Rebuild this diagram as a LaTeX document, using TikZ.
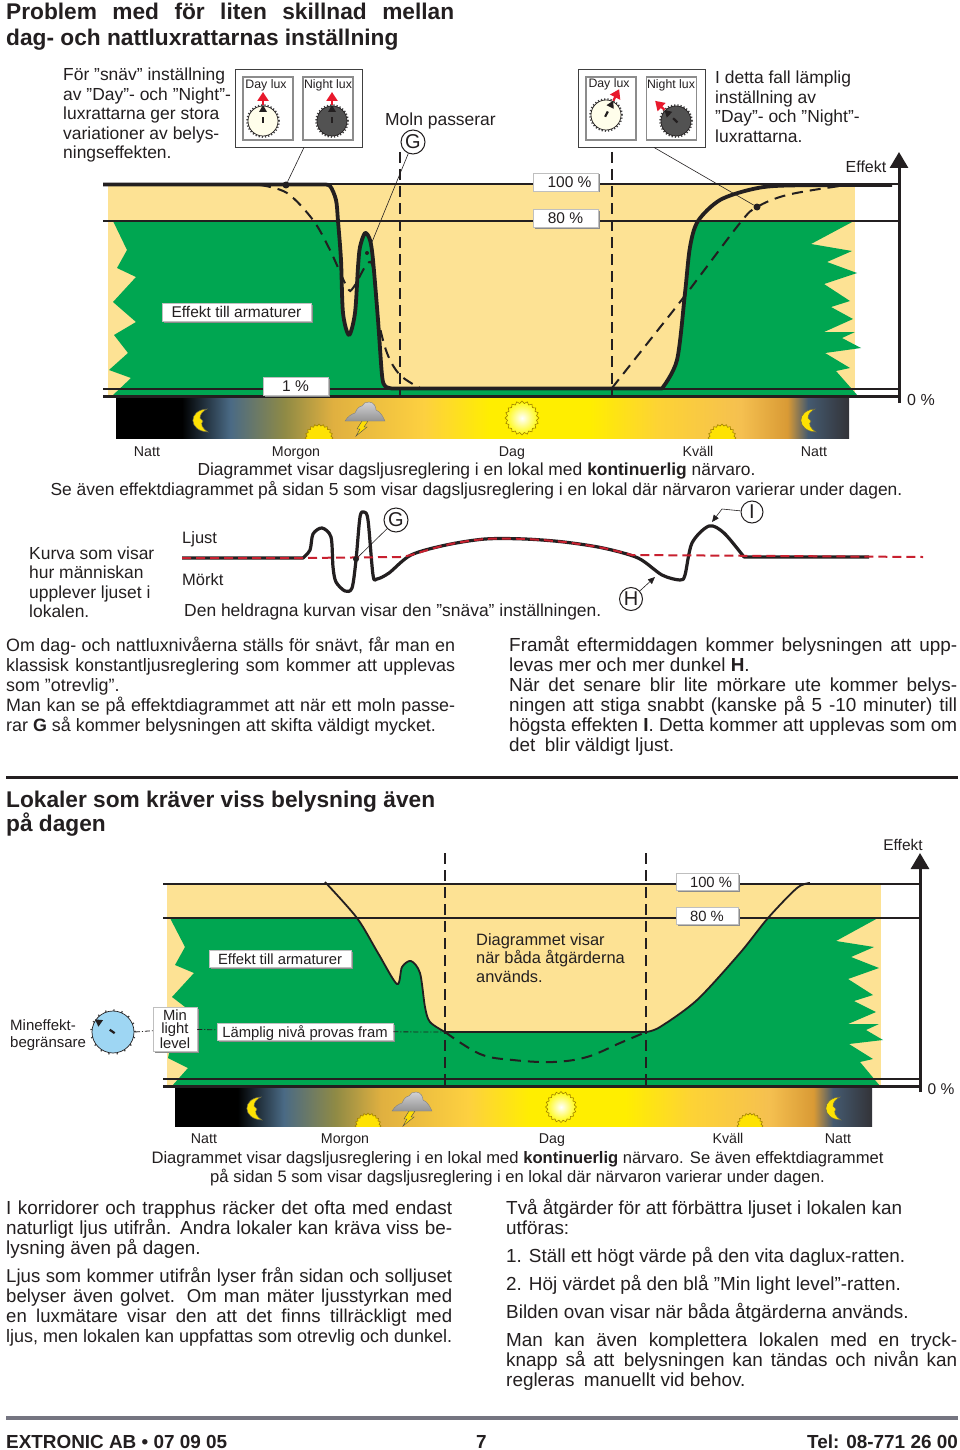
\documentclass[tikz,border=0pt]{standalone}
\usepackage{fontspec}
\setmainfont{Liberation Sans}
\usetikzlibrary{arrows.meta,positioning,shapes.geometric,shadows}

\definecolor{cream}{HTML}{FDE294}
\definecolor{grass}{HTML}{00A651}
\definecolor{ink}{HTML}{231F20}
\definecolor{dashred}{HTML}{C8202F}
\definecolor{tipred}{HTML}{E8192C}
\definecolor{skydial}{HTML}{9ED6F3}
\definecolor{duskblue}{HTML}{4A6A85}
\definecolor{olive}{HTML}{8F8A45}
\definecolor{tan}{HTML}{E0B040}
\definecolor{gold}{HTML}{FDD040}
\definecolor{noon}{HTML}{FFEE00}
\definecolor{warm}{HTML}{FDD335}
\definecolor{peach}{HTML}{F5C050}
\definecolor{amber}{HTML}{D99A35}
\definecolor{lateblue}{HTML}{445A70}
\definecolor{lategray}{HTML}{333338}
\definecolor{sunrim}{HTML}{A08000}
\pgfdeclarehorizontalshading{dayshade}{100bp}{
  color(0bp)=(black); color(25bp)=(black); color(29.5bp)=(black);
  color(32.8bp)=(duskblue);
  color(36.5bp)=(olive); color(39.8bp)=(tan); color(46bp)=(gold);
  color(50.5bp)=(noon); color(57.3bp)=(noon); color(62bp)=(warm);
  color(67.6bp)=(peach); color(70.8bp)=(amber); color(72.2bp)=(lateblue);
  color(75bp)=(lategray); color(100bp)=(lategray)}
\newcommand{\jl}[1]{\makebox[\hsize][s]{#1}\\}

\begin{document}
\begin{tikzpicture}[
  x=1pt, y=-1pt, text=ink,
  headline/.style={anchor=base west, inner sep=0pt, text width=470pt, align=flush left,
               font=\fontsize{22.7}{25.5}\selectfont\bfseries},
  body/.style={anchor=base west, inner sep=0pt, align=flush left,
               font=\fontsize{18.9}{20}\selectfont},
  note/.style={anchor=base west, inner sep=0pt, align=flush left,
               font=\fontsize{17.45}{19.5}\selectfont},
  captext/.style={anchor=base, inner sep=0pt, font=\fontsize{17.4}{20}\selectfont},
  small/.style={anchor=base, inner sep=0pt, font=\fontsize{14.2}{16}\selectfont},
  tag/.style={draw=black!25, fill=white, line width=.5pt, inner sep=0pt,
              text height=12pt, text depth=1pt,
              minimum height=18pt, font=\fontsize{15.5}{16}\selectfont,
              drop shadow={shadow xshift=1.5pt, shadow yshift=-1.5pt, fill=black!45, opacity=1}},
  tagsmall/.style={tag, minimum height=17pt, font=\fontsize{14.8}{15}\selectfont},
  facet/.style={draw=black!45, fill=white, line width=1.1pt, minimum width=50pt, minimum height=63pt},
  panel/.style={draw=black!75, fill=white, line width=.9pt, minimum width=127pt, minimum height=78pt},
  knoblabel/.style={inner sep=0pt, font=\fontsize{12.3}{13}\selectfont},
  ring/.style={circle, draw=ink, line width=1pt, fill=white, minimum size=24pt, inner sep=0pt,
               font=\fontsize{20}{20}\selectfont},
  dotmark/.style={circle, fill=ink, minimum size=7pt, inner sep=0pt},
  leader/.style={draw=ink, line width=.6pt},
  tipleader/.style={draw=ink, line width=.6pt, -{Triangle[length=7pt,width=6pt]}},
  axisline/.style={draw=ink, line width=3pt, -{Triangle[length=16pt,width=18pt]}},
  baseline rule/.style={draw=ink, line width=3pt},
  levelline/.style={draw=ink, line width=1.2pt},
  fullcurve/.style={draw=ink, line width=3.8pt, line join=round},
  thincurve/.style={draw=ink, line width=1.8pt},
  softdash/.style={draw=ink, line width=2pt, dash pattern=on 11pt off 7pt},
  divider/.style={draw=ink, line width=2pt, dash pattern=on 11pt off 6pt},
  dotdash/.style={draw=ink, line width=.8pt, dash pattern=on 5pt off 2pt on 1pt off 2pt},
  pics/knob/.style n args={4}{code={
    \draw[draw=black!75, line width=1.8pt, dash pattern=on 1.2pt off #4pt] (0,0) circle (#2pt+.9pt);
    \draw[draw=ink, fill=#1, line width=.7pt] (0,0) circle (#2pt);
    \fill[ink, rotate=#3] (-1.1,-4) rectangle (1.1,2);
    \fill[ink, rotate=#3] (-4,-#2+6) -- (4,-#2+6) -- (0,-#2-1) -- cycle;
  }},
  pics/redtip/.style={code={
    \draw[draw=tipred, line width=2.2pt, -{Triangle[length=9pt,width=11pt]}] (0,-16) -- (0,-29);
  }},
  pics/sunfull/.style={code={
    \node[star, star points=20, star point ratio=1.16, minimum size=#1*2pt, inner sep=0pt,
          draw=sunrim, line width=.6pt, inner color=white, outer color=yellow!95!orange] (sunbody) {};
  }},
  pics/sunlow/.style={code={
    \node[star, star points=20, star point ratio=1.16, minimum size=#1*2pt, inner sep=0pt,
          draw=sunrim, line width=.6pt, fill=yellow!85!orange] (sunbody) {};
  }},
  pics/moon/.style={code={
    \draw[draw=black!65!yellow, line width=.5pt, fill=yellow!85!orange]
      (7,-11) .. controls (-12,-10) and (-12,11) .. (8,12)
      .. controls (2,8) and (0,4) .. (3,1) -- (0,-2) .. controls (0,-6) and (3,-9) .. (7,-11) -- cycle;
  }},
  pics/storm/.style={code={
    \draw[draw=black!70, line width=.4pt, fill=yellow!80!orange] (-3,9) -- (3,9) -- (-1,15) -- (2,15) -- (-9,24) -- (-5,17) -- (-8,17) -- cycle;
    \draw[draw=black!50, line width=.4pt, top color=blue!8!black!18, bottom color=black!42]
      (-20,9) .. controls (-17,4) and (-13,2) .. (-10,1)
      .. controls (-8,-4) and (-5,-6) .. (-3,-6)
      .. controls (-2,-9) and (1,-10) .. (4,-10)
      .. controls (9,-10) and (11,-5) .. (11,-2)
      .. controls (16,0) and (18,5) .. (20,9) -- cycle;
  }}
]
\useasboundingbox (0,0) rectangle (960,1450);
\fill[white] (0,0) rectangle (960,1450);

\node[headline] (titleA) at (6,20) {\makebox[448pt][s]{Problem med för liten skillnad mellan}\\dag- och nattluxrattarnas inställning};
\node[note, text width=175pt] (noteA) at (63,81) {För ”snäv” inställning\\av ”Day”- och ”Night”-\\luxrattarna ger stora\\variationer av belys-\\ningseffekten.};
\node[note, text width=175pt] (noteB) at (715,84) {I detta fall lämplig\\inställning av\\”Day”- och ”Night”-\\luxrattarna.};
\node[note, text width=120pt] (cloudnote) at (385,126) {Moln passerar};

% first chart
\fill[cream] (108,184) rectangle (855,396);
\fill[grass] (113,221) -- (338,221) -- plot[smooth,tension=.5] coordinates {(338,221) (341,260) (343,313) (349,335) (355,313) (358,267) (360,247) (365,233) (370,240) (373,260) (378,320) (382,375) (385,386) (392,388.5)}
  -- (662,388.5) -- plot[smooth,tension=.5] coordinates {(662,388.5) (677,360) (685,293) (690,247) (698,221)}
  -- (854,221) -- (811,244) -- (852,251) -- (827,262) -- (857,273) -- (824,284) -- (850,301) -- (831,307) -- (853,319) -- (824,332) -- (855,332) -- (842,338) -- (861,348) -- (825,353) -- (850,368) -- (836,371) -- (858,396)
  -- (112,396) -- (131,378) -- (109,370) -- (128,353) -- (114,335) -- (136,322) -- (113,302) -- (136,277) -- (117,268) -- (127,250) -- cycle;
\shade[shading=dayshade] (116,398) rectangle (849,438);
\begin{scope}
  \clip (116,398) rectangle (849,438);
  \pic at (319,438) {sunlow=14};
  \pic at (722,438) {sunlow=14};
\end{scope}
\pic at (522,418) {sunfull=17};
\pic at (200,420) {moon};
\pic at (808,420) {moon};
\pic at (365,412) {storm};

\draw[levelline] (103,184) -- (899,184);
\draw[levelline] (103,221) -- (899,221);
\draw[levelline] (103,389) -- (899,389);
\draw[baseline rule] (103,396) -- (899,396);
\coordinate (axisAlow) at (899,403);
\coordinate (axisAtop) at (899,152);
\draw[axisline] (axisAlow) -- (axisAtop);
\coordinate (divA) at (400,152);
\coordinate (divAend) at (400,396);
\coordinate (divB) at (612,152);
\coordinate (divBend) at (612,396);
\draw[divider] (divA) -- (divAend);
\draw[divider] (divB) -- (divBend);

\draw[softdash] plot[smooth,tension=.55] coordinates {(260,185) (287,193) (313,220) (330,250) (347,287) (353,288) (367,264) (373,268) (378,317) (387,353) (400,375) (420,388)};
\draw[softdash] plot[smooth,tension=.55] coordinates {(612,388) (650,340) (687,293) (740,223) (757,207) (787,195) (840,186) (860,185)};
\draw[fullcurve] (103,184.5) -- plot[smooth,tension=.5] coordinates {(322,184.5) (330,186) (336,200) (338,221) (341,260) (343,313) (349,335) (355,313) (358,267) (360,247) (365,233) (370,240) (373,260) (378,320) (382,375) (385,386) (392,388.5)}
  -- (662,388.5) -- plot[smooth,tension=.5] coordinates {(662,388.5) (677,360) (685,293) (690,247) (698,221) (720,200) (753,189) (787,185.5) (892,185)};

\node[tag, minimum width=65pt] (tagfull) at (565.5,182) {\hspace{8pt}100 \%};
\node[tag, minimum width=65pt] (tageighty) at (565.5,218) {80 \%};
\node[tag, minimum width=65pt] (tagone) at (295.5,386) {1 \%};
\node[tag, minimum width=149pt] (tageffect) at (236.5,312) {Effekt till armaturer};

\node[panel] (panelA) at (298.5,108) {};
\node[facet] (dayA) at (268,108.5) {};
\node[facet] (nightA) at (328,108.5) {};
\node[knoblabel] (dayAtxt) at (266,85) {Day lux};
\node[knoblabel] (nightAtxt) at (328,85.5) {Night lux};
\pic at (263,121) {knob={yellow!8}{15}{0}{2}};
\pic at (332,121) {knob={black!68}{15}{0}{2}};
\pic at (263,121) {redtip};
\pic at (332,121) {redtip};
\node[panel] (panelB) at (641.5,108) {};
\node[facet] (dayB) at (611,108.5) {};
\node[facet] (nightB) at (671.5,108.5) {};
\node[knoblabel] (dayBtxt) at (609,84) {Day lux};
\node[knoblabel] (nightBtxt) at (671,85) {Night lux};
\pic at (606,115) {knob={yellow!8}{15}{-27}{2}};
\pic at (676,121) {knob={black!68}{15}{46}{2}};
\pic[rotate=-27] at (606,115) {redtip};
\pic[rotate=46] at (676,121) {redtip};

\node[dotmark] (dotA) at (286,185) {};
\node[dotmark] (dotB) at (757,207) {};
\node[dotmark, minimum size=4pt] (dotC) at (367,253) {};
\draw[leader] ([xshift=5.5pt]panelA.south) -- (dotA);
\draw[leader] ([xshift=12.5pt]panelB.south) -- (dotB);
\node[ring] (ringG) at (413,142) {G};
\coordinate (peakA) at (372,242);
\draw[leader] (ringG) -- (peakA);

\node[small, font=\fontsize{16}{16}\selectfont] (effectA) at (866,172.5) {Effekt};
\node[small, font=\fontsize{16}{16}\selectfont] (zeroA) at (921,405.5) {0 \%};
\node[small] (nattA) at (147,456) {Natt};
\node[small] (morgonA) at (296,456) {Morgon};
\node[small] (dagA) at (512,456) {Dag};
\node[small] (kvallA) at (698,456) {Kväll};
\node[small] (nattB) at (814,456) {Natt};
\node[captext] (capA) at (476.5,475) {Diagrammet visar dagsljusreglering i en lokal med \textbf{kontinuerlig} närvaro.};
\node[captext] (capB) at (476.5,495) {Se även effektdiagrammet på sidan 5 som visar dagsljusreglering i en lokal där närvaron varierar under dagen.};

% perceived light
\node[note, text width=140pt] (noteC) at (29,559) {Kurva som visar\\hur människan\\upplever ljuset i\\lokalen.};
\node[note, text width=80pt, font=\fontsize{16.5}{20}\selectfont] (ljust) at (182,543) {Ljust};
\node[note, text width=80pt, font=\fontsize{16.5}{20}\selectfont] (morkt) at (182,585) {Mörkt};
\node[note, text width=430pt] (noteD) at (184,616) {Den heldragna kurvan visar den ”snäva” inställningen.};
\draw[draw=ink, line width=3.2pt, line join=round] (182,558) -- plot[smooth,tension=.5] coordinates {(303,558) (310,550) (313,534) (322,528) (331,537) (333,567) (336,582) (345,591) (352,588) (356,560) (360,517) (364,512) (368,520) (373,575) (377,579) (389,573) (411,555) (446,545) (485,539) (525,539) (564,542) (603,548) (638,558) (662,575) (680,580) (685,575) (692,543) (709,526) (724,533) (744,557)} -- (869,557);
\draw[draw=dashred, line width=2pt, dash pattern=on 9pt off 5pt] (182,558) -- (303,558) -- (400,557) -- plot[smooth,tension=.5] coordinates {(400,557) (411,555) (446,545) (485,539) (525,539) (564,542) (603,548) (632,555)} -- (923,557);
\node[dotmark, minimum size=6pt] (dotG) at (356,559) {};
\node[ring] (ringGb) at (396,520) {G};
\node[ring, minimum size=23pt] (ringH) at (631,599) {H};
\node[ring, minimum size=22pt] (ringI) at (752,512) {I};
\coordinate (tipH) at (655,577);
\coordinate (tipI) at (712,522);
\coordinate (kneeI) at (722,509);
\draw[leader] (ringGb) -- (dotG);
\draw[tipleader] (ringH) -- (tipH);
\draw[tipleader] (ringI) -- (kneeI) -- (tipI);

\node[body, text width=449pt, font=\fontsize{17.9}{20}\selectfont] (textA) at (6,651) {\jl{Om dag- och nattluxnivåerna ställs för snävt, får man en}\jl{klassisk konstantljusreglering som kommer att upplevas}som ”otrevlig”.\\\jl{Man kan se på effektdiagrammet att när ett moln passe-}rar \textbf{G} så kommer belysningen att skifta väldigt mycket.};
\node[body, text width=448pt] (textB) at (509,651) {\jl{Framåt eftermiddagen kommer belysningen att upp-}levas mer och mer dunkel \textbf{H}.\\\jl{När det senare blir lite mörkare ute kommer belys-}\jl{ningen att stiga snabbt (kanske på 5 -10 minuter) till}\jl{högsta effekten \textbf{I}. Detta kommer att upplevas som om}det\enspace blir väldigt ljust.};

\fill[ink] (6,775.5) rectangle (958,778.5);
\node[headline, font=\fontsize{22.7}{24.5}\selectfont\bfseries] (titleB) at (6,807) {Lokaler som kräver viss belysning även\\på dagen};

% second chart
\fill[cream] (167,884) rectangle (881,1086);
\fill[grass] (170,918) -- (357,918) -- plot[smooth,tension=.5] coordinates {(357,918) (378,953) (397,984) (402,967) (411,961) (420,973) (425,1007) (430,1022) (445,1032)}
  -- (646,1032) -- plot[smooth,tension=.5] coordinates {(646,1032) (660,1027) (697,1000) (740,953) (768,918)}
  -- (878,918) -- (836,941) -- (874,947) -- (851,957) -- (879,968) -- (848,979) -- (873,995) -- (854,1001) -- (876,1012) -- (848,1024) -- (879,1024) -- (866,1030) -- (883,1040) -- (849,1044) -- (873,1059) -- (860,1062) -- (880,1086)
  -- (172,1086) -- (188,1068) -- (168,1058) -- (172,1040) -- (193,1013) -- (172,997) -- (194,973) -- (175,965) -- (185,947) -- cycle;
\shade[shading=dayshade] (175,1088) rectangle (872,1126);
\begin{scope}
  \clip (175,1088) rectangle (872,1126);
  \pic at (368,1126) {sunlow=13};
  \pic at (750,1126) {sunlow=13};
\end{scope}
\pic at (561,1107) {sunfull=15.5};
\pic at (254,1108) {moon};
\pic at (833,1108) {moon};
\pic at (412,1102) {storm};

\draw[levelline] (163,884) -- (920,884);
\draw[levelline] (163,918) -- (920,918);
\draw[levelline] (163,1079) -- (920,1079);
\draw[baseline rule] (163,1086) -- (920,1086);
\coordinate (axisBlow) at (920,1092);
\coordinate (axisBtop) at (920,853);
\draw[axisline] (axisBlow) -- (axisBtop);
\coordinate (divC) at (445,853);
\coordinate (divCend) at (445,1086);
\coordinate (divD) at (646,853);
\coordinate (divDend) at (646,1086);
\draw[divider] (divC) -- (divCend);
\draw[divider] (divD) -- (divDend);

\draw[thincurve] plot[smooth,tension=.5] coordinates {(325,882) (357,918) (378,953) (397,984) (402,967) (411,961) (420,973) (425,1007) (430,1022) (445,1032)}
  -- (646,1032) -- plot[smooth,tension=.5] coordinates {(646,1032) (660,1027) (697,1000) (740,953) (768,918) (797,888) (810,883)};
\draw[softdash] plot[smooth,tension=.6] coordinates {(445,1032) (480,1054) (513,1060) (553,1062) (587,1057) (620,1043) (646,1032)};

\node[tagsmall, minimum width=62pt] (tagfullB) at (707,881.5) {\hspace{8pt}100 \%};
\node[tagsmall, minimum width=62pt] (tageightyB) at (707,916) {80 \%};
\node[tagsmall, minimum width=142pt] (tageffectB) at (280,958.5) {Effekt till armaturer};
\node[tagsmall, minimum width=176pt] (tagtrial) at (305,1031.5) {Lämplig nivå provas fram};
\node[tagsmall, text height=, text depth=, minimum width=44pt, minimum height=44pt, align=center, font=\fontsize{14.8}{13.5}\selectfont] (minbox) at (175,1029) {Min\\light\\level};
\node[note, text width=170pt, font=\fontsize{16.4}{18.7}\selectfont] (noteE) at (476,945) {Diagrammet visar\\när båda åtgärderna\\används.};
\node[note, text width=90pt, font=\fontsize{15}{17}\selectfont] (minnote) at (10,1030) {Mineffekt-\\begränsare};
\coordinate (knobblue) at (113,1032);
\pic at (knobblue) {knob={skydial}{21}{55}{7}};
\coordinate (knobedge) at (135,1032);
\coordinate (trialend) at (445,1032);
\draw[dotdash] (knobedge) -- (minbox);
\draw[dotdash] (minbox) -- (tagtrial);
\draw[dotdash] (tagtrial) -- (trialend);

\node[small, font=\fontsize{15.5}{16}\selectfont] (effectB) at (903,850.5) {Effekt};
\node[small, font=\fontsize{15.5}{16}\selectfont] (zeroB) at (941,1094.5) {0 \%};
\node[small] (nattC) at (204,1143) {Natt};
\node[small] (morgonB) at (345,1143) {Morgon};
\node[small] (dagB) at (552,1143) {Dag};
\node[small] (kvallB) at (728,1143) {Kväll};
\node[small] (nattD) at (838,1143) {Natt};
\node[captext, font=\fontsize{16.6}{19}\selectfont] (capC) at (517.5,1163) {Diagrammet visar dagsljusreglering i en lokal med \textbf{kontinuerlig} närvaro. Se även effektdiagrammet};
\node[captext, font=\fontsize{16.6}{19}\selectfont] (capD) at (517.5,1182) {på sidan 5 som visar dagsljusreglering i en lokal där närvaron varierar under dagen.};

\node[body, text width=446pt] (textC) at (6,1214) {\jl{I korridorer och trapphus räcker det ofta med endast}\jl{naturligt ljus utifrån. Andra lokaler kan kräva viss be-}lysning även på dagen.};
\node[body, text width=446pt, font=\fontsize{18.6}{20}\selectfont] (textD) at (6,1282) {\jl{Ljus som kommer utifrån lyser från sidan och solljuset}\jl{belyser även golvet. Om man mäter ljusstyrkan med}\jl{en luxmätare visar den att det finns tillräckligt med}\jl{\fontsize{18}{20}\selectfont ljus, men lokalen kan uppfattas som otrevlig och dunkel.}};
\node[body, text width=451pt] (textE) at (506,1214) {Två åtgärder för att förbättra ljuset i lokalen kan\\utföras:};
\node[body, text width=451pt] (textF) at (506,1262) {1. Ställ ett högt värde på den vita daglux-ratten.};
\node[body, text width=451pt] (textG) at (506,1290) {2. Höj värdet på den blå ”Min light level”-ratten.};
\node[body, text width=451pt] (textH) at (506,1318) {Bilden ovan visar när båda åtgärderna används.};
\node[body, text width=451pt] (textI) at (506,1346) {\jl{Man kan även komplettera lokalen med en tryck-}\jl{knapp så att\enspace belysningen kan tändas och nivån kan}regleras\enspace manuellt vid behov.};

\fill[black!45!blue!8!gray] (6,1416) rectangle (958,1420);
\node[body, font=\fontsize{18.9}{20}\selectfont\bfseries] (footA) at (6,1448) {EXTRONIC AB • 07 09 05};
\node[body, font=\fontsize{18.9}{20}\selectfont\bfseries] (footB) at (476,1448) {7};
\node[body, anchor=base east, font=\fontsize{18.9}{20}\selectfont\bfseries] (footC) at (958,1448) {Tel: 08-771 26 00};
\end{tikzpicture}
\end{document}
